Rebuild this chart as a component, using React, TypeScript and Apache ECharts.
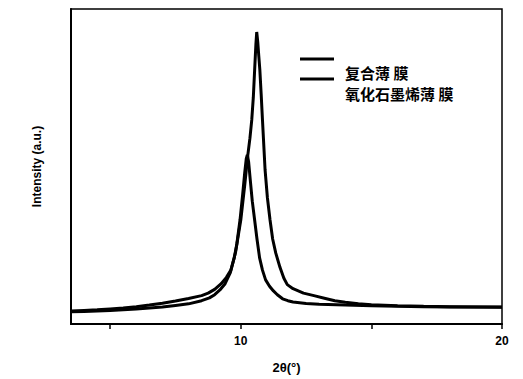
import React, { useEffect, useRef } from "react";
import * as echarts from "echarts";

// Composite film (复合薄 膜)
const compositeTheta = [3.5, 4.0, 4.5, 5.0, 5.5, 6.0, 6.5, 7.0, 7.5, 8.0, 8.5, 8.8, 9.0, 9.2, 9.4, 9.6, 9.8, 10.0, 10.15, 10.27, 10.35, 10.42, 10.48, 10.53, 10.58, 10.61, 10.65, 10.69, 10.73, 10.78, 10.83, 10.93, 11.02, 11.12, 11.22, 11.34, 11.5, 11.65, 11.78, 12.0, 12.4, 12.8, 13.2, 13.6, 14.0, 14.5, 15.0, 16.0, 17.0, 18.0, 19.0, 20.0];
const compositeIntensity = [3.9, 4.0, 4.1, 4.3, 4.5, 4.8, 5.1, 5.4, 5.9, 6.4, 7.4, 8.3, 9.3, 10.8, 12.8, 16.3, 22.8, 33.0, 44.0, 53.7, 59.0, 64.8, 72.0, 80.6, 89.0, 92.7, 89.5, 85.0, 80.6, 73.0, 64.8, 48.9, 40.0, 33.0, 27.0, 22.5, 18.0, 14.5, 12.5, 11.2, 9.8, 9.0, 8.2, 7.4, 6.9, 6.4, 6.1, 5.8, 5.6, 5.5, 5.4, 5.4];

// Graphene oxide film (氧化石墨烯薄 膜)
const goTheta = [3.5, 4.0, 4.5, 5.0, 5.5, 6.0, 6.5, 7.0, 7.5, 8.0, 8.5, 8.75, 9.0, 9.25, 9.45, 9.62, 9.75, 9.85, 9.97, 10.07, 10.15, 10.21, 10.25, 10.3, 10.36, 10.44, 10.53, 10.62, 10.72, 10.83, 10.95, 11.1, 11.25, 11.4, 11.6, 11.8, 12.0, 12.5, 13.0, 14.0, 15.0, 16.0, 17.0, 18.0, 19.0, 20.0];
const goIntensity = [4.1, 4.3, 4.5, 4.8, 5.1, 5.5, 6.0, 6.6, 7.3, 8.1, 9.0, 9.8, 11.0, 12.8, 14.8, 17.1, 21.0, 25.5, 33.0, 41.0, 48.0, 52.5, 53.7, 51.5, 46.0, 39.0, 33.0, 27.0, 21.0, 17.1, 14.0, 12.0, 10.5, 9.3, 8.0, 7.4, 7.0, 6.5, 6.3, 6.0, 5.8, 5.6, 5.5, 5.4, 5.4, 5.3];

const seriesNames = ["复合薄 膜", "氧化石墨烯薄 膜"];
const xTickValues = [5, 10, 15, 20];
const xLabelValues = [10, 20];

const zip = (xs: number[], ys: number[]) => xs.map((x, i) => [x, ys[i]]);

export default function App() {
  const ref = useRef<HTMLDivElement>(null);
  useEffect(() => {
    if (!ref.current) return;
    const chart = echarts.init(ref.current, undefined, { renderer: "svg" });
    const labelFont = "'Liberation Sans', 'DejaVu Sans', sans-serif";
    const cjkFont = "'Noto Sans CJK SC', sans-serif";
    // Legend drawn as graphic: line samples sit a little above their texts, as in the reference
    const legendLineTops = [59, 79];
    const legendTextCenters = [72, 93];
    const legendGraphics: any[] = [];
    seriesNames.forEach((name, i) => {
      legendGraphics.push({
        type: "line",
        shape: { x1: 300, y1: legendLineTops[i], x2: 334, y2: legendLineTops[i] },
        style: { stroke: "#000", lineWidth: 3 },
      });
      legendGraphics.push({
        type: "text",
        x: 345,
        y: legendTextCenters[i],
        style: {
          text: name,
          fill: "#000",
          font: `bold 15px ${cjkFont}`,
          verticalAlign: "middle",
        },
      });
    });
    chart.setOption({
      animation: false,
      backgroundColor: "#fff",
      grid: {
        left: 71,
        right: 21,
        top: 9,
        bottom: 55,
        show: true,
        borderColor: "#000",
        borderWidth: 1.5,
      },
      graphic: legendGraphics,
      xAxis: {
        type: "value",
        min: 3.5,
        max: 20,
        name: "2θ(°)",
        nameLocation: "middle",
        nameGap: 37,
        nameTextStyle: { fontSize: 13, fontWeight: "bold", color: "#000", fontFamily: labelFont },
        axisLine: { show: true, lineStyle: { color: "#000", width: 2 } },
        axisTick: { show: true, inside: false, length: 5, customValues: xTickValues, lineStyle: { color: "#000", width: 1.5 } },
        axisLabel: { show: true, customValues: xLabelValues, fontSize: 12, fontWeight: "bold", color: "#000", margin: 11, fontFamily: labelFont },
        splitLine: { show: false },
      },
      yAxis: {
        type: "value",
        min: 0,
        max: 100,
        name: "Intensity (a.u.)",
        nameLocation: "middle",
        nameGap: 28,
        nameTextStyle: { fontSize: 12, fontWeight: "bold", color: "#000", fontFamily: labelFont },
        axisLine: { show: true, lineStyle: { color: "#000", width: 2 } },
        axisTick: { show: false },
        axisLabel: { show: false },
        splitLine: { show: false },
      },
      series: [
        {
          name: seriesNames[0],
          type: "line",
          data: zip(compositeTheta, compositeIntensity),
          showSymbol: false,
          symbol: "none",
          lineStyle: { color: "#000", width: 3 },
          itemStyle: { color: "#000" },
        },
        {
          name: seriesNames[1],
          type: "line",
          data: zip(goTheta, goIntensity),
          showSymbol: false,
          symbol: "none",
          lineStyle: { color: "#000", width: 3 },
          itemStyle: { color: "#000" },
        },
      ],
    });
    return () => chart.dispose();
  }, []);
  return (
    <div
      ref={ref}
      style={{ position: "fixed", left: 0, top: 0, width: 523, height: 379, background: "#fff" }}
    />
  );
}
